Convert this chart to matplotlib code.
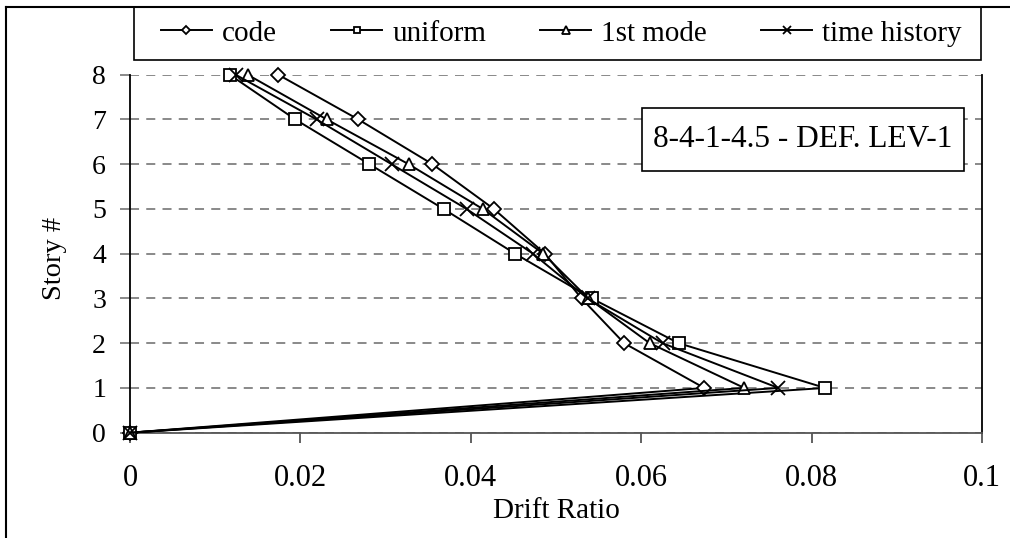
import numpy as np
import matplotlib
matplotlib.use("Agg")
import matplotlib.pyplot as plt
from matplotlib.lines import Line2D
from matplotlib.patches import Rectangle

plt.rcParams['font.family'] = ['Liberation Serif', 'DejaVu Serif']

# drift ratio per story
stories = [0, 1, 2, 3, 4, 5, 6, 7, 8]
code = [0, 0.0674, 0.0580, 0.0530, 0.0487, 0.0427, 0.0355, 0.0268, 0.0174]
uniform = [0, 0.0816, 0.0644, 0.0542, 0.0452, 0.0368, 0.0281, 0.0194, 0.0117]
first_mode = [0, 0.0721, 0.0610, 0.0538, 0.0485, 0.0414, 0.0327, 0.0231, 0.0138]
time_history = [0, 0.0761, 0.0625, 0.0537, 0.0473, 0.0395, 0.0307, 0.0219, 0.0124]

labels = ["code", "uniform", "1st mode", "time history"]
xticks = [0, 0.02, 0.04, 0.06, 0.08, 0.1]
xtick_labels = ["0", "0.02", "0.04", "0.06", "0.08", "0.1"]

W, H = 1010, 538
fig = plt.figure(figsize=(W / 100, H / 100), dpi=100)
ax = fig.add_axes([130 / W, 1 - 432.7 / H, 852 / W, 358 / H])

series = [code, uniform, first_mode, time_history]
markers = ['D', 's', '^', 'x']
msizes = [7, 8, 8.5, 10]
for vals, mk, ms, lab in zip(series, markers, msizes, labels):
    ax.plot(vals, stories, color='black', lw=1.4, marker=mk, ms=ms,
            mfc='white', mec='black', mew=1.3, label=lab, clip_on=False, zorder=3)

ax.set_xlim(0, 0.1)
ax.set_ylim(0, 8)
ax.set_xticks(xticks)
ax.set_xticklabels(xtick_labels)
ax.set_yticks(stories)

ax.yaxis.grid(True, linestyle=(0, (5, 4)), color='#808080', lw=1.3)
ax.set_axisbelow(True)

ax.spines['top'].set_visible(False)
ax.spines['left'].set_color('black')
ax.spines['right'].set_color('black')
ax.spines['bottom'].set_color('#555555')
for s in ax.spines.values():
    s.set_linewidth(1.3)

ax.tick_params(axis='y', direction='out', length=7.2, width=1.3, color='#808080',
               labelsize=20, pad=10)
ax.tick_params(axis='x', direction='out', length=7.2, width=1.3, color='#555555',
               labelsize=22, pad=15)

ax.set_xlabel("Drift Ratio", fontsize=21, va='center')
ax.xaxis.set_label_coords(0.5, -0.218)
ax.set_ylabel("Story #", fontsize=20.5, va='center')
ax.yaxis.set_label_coords(-0.089, 0.488)

ax.text(0.790, 0.818, "8-4-1-4.5 - DEF. LEV-1", transform=ax.transAxes,
        fontsize=22.5, ha='center', va='center', zorder=5)
ax.add_patch(Rectangle((0.601, 0.731), 0.378, 0.176, transform=ax.transAxes,
                       fc='white', ec='black', lw=1.2, zorder=4))

handles, labs = ax.get_legend_handles_labels()
leg = fig.legend(handles, labs, loc='center', ncol=4,
                 bbox_to_anchor=(561.5 / W, 1 - 33.5 / H),
                 fontsize=21, frameon=False,
                 markerscale=0.6, handlelength=1.75, handletextpad=0.35,
                 columnspacing=1.85)
# legend frame
fig.add_artist(Rectangle((134 / W, 1 - 60 / H), (981 - 134) / W, 53 / H,
                         transform=fig.transFigure, fill=False, ec='black', lw=1.2))

# outer chart border (cropped at right/bottom)
fig.add_artist(Line2D([6 / W, 6 / W], [0, 1 - 7 / H], color='black', lw=1.5))
fig.add_artist(Line2D([6 / W, 1], [1 - 7 / H, 1 - 7 / H], color='black', lw=1.5))

fig.savefig("out.png", dpi=100)
